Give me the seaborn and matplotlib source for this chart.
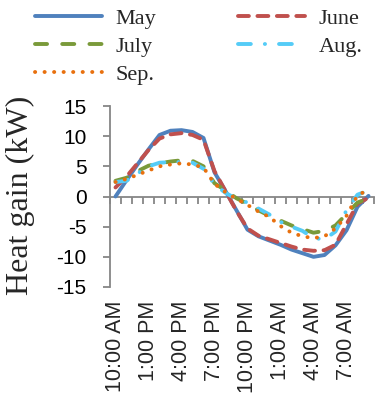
import matplotlib
matplotlib.use("Agg")
import matplotlib.pyplot as plt
import seaborn as sns
import numpy as np
import pandas as pd

# ---- data ----
hours = ["10:00 AM", "11:00 AM", "12:00 PM", "1:00 PM", "2:00 PM", "3:00 PM",
         "4:00 PM", "5:00 PM", "6:00 PM", "7:00 PM", "8:00 PM", "9:00 PM",
         "10:00 PM", "11:00 PM", "12:00 AM", "1:00 AM", "2:00 AM", "3:00 AM",
         "4:00 AM", "5:00 AM", "6:00 AM", "7:00 AM", "8:00 AM", "9:00 AM"]
may = [0.0, 2.7, 5.3, 7.8, 10.2, 10.9, 11.0, 10.7, 9.7, 4.0, 0.9, -2.3,
       -5.5, -6.6, -7.3, -8.0, -8.8, -9.4, -10.0, -9.7, -8.1, -5.6, -1.7, 0.1]
june = [1.5, 3.3, 5.5, 7.7, 9.6, 10.3, 10.5, 10.2, 9.4, 4.2, 0.9, -2.4,
        -5.3, -6.5, -7.1, -7.7, -8.3, -8.8, -9.0, -8.9, -8.0, -4.6, -1.2, -0.2]
july = [2.6, 3.1, 4.2, 5.1, 5.5, 5.8, 6.0, 5.9, 5.0, 2.2, 1.0, -0.3,
        -1.2, -2.3, -3.2, -4.0, -4.8, -5.4, -6.0, -5.7, -4.8, -2.9, -1.0, -0.3]
aug = [2.4, 2.6, 3.8, 5.0, 5.6, 5.7, 5.7, 5.6, 4.6, 2.0, 0.6, -0.4,
       -1.0, -2.0, -3.0, -4.2, -5.0, -5.7, -6.9, -7.1, -5.8, -2.3, 0.3, 1.0]
sep = [2.4, 2.9, 3.6, 4.3, 5.0, 5.3, 5.5, 5.3, 4.8, 2.1, 0.7, -0.4,
       -1.4, -2.5, -3.4, -4.9, -6.0, -6.6, -6.9, -6.6, -5.3, -3.2, 0.2, 1.1]
series_names = ["May", "June", "July", "Aug.", "Sep."]
tick_labels = ["10:00 AM", "1:00 PM", "4:00 PM", "7:00 PM",
               "10:00 PM", "1:00 AM", "4:00 AM", "7:00 AM"]
y_ticks = [-15, -10, -5, 0, 5, 10, 15]

# ---- styles ----
colors = {"May": "#4F81BD", "June": "#C0504D", "July": "#7A9A3A",
          "Aug.": "#55CCF7", "Sep.": "#E8700E"}
styles = {"May": "-",
          "June": (0, (2.8, 2.2)),
          "July": (0, (3.1, 3.9)),
          "Aug.": (0, (3.3, 3.6, 0.05, 3.6)),
          "Sep.": (0, (0.05, 2.4))}

sns.set_style("white")
plt.rcParams["font.family"] = ["Liberation Sans", "DejaVu Sans"]

fig = plt.figure(figsize=(3.76, 3.99), dpi=100)
ax = fig.add_axes([110 / 376, 112 / 399, 264 / 376, 181 / 399])

data = {"May": may, "June": june, "July": july, "Aug.": aug, "Sep.": sep}
idx = np.arange(len(hours))
handles = {}
for name in series_names:
    df = pd.DataFrame({"x": idx, "y": data[name]})
    sns.lineplot(data=df, x="x", y="y", ax=ax, color=colors[name],
                 linestyle=styles[name], linewidth=2.8, label=name,
                 legend=False, dash_capstyle="round", solid_capstyle="round",
                 zorder=3, sort=False)
    handles[name] = ax.lines[-1]

ax.set_xlim(-0.5, len(hours) - 0.5)
ax.set_ylim(-15, 15)
ax.set_xlabel("")
ax.set_ylabel("")

spine_col = "#868686"
for s in ["top", "right"]:
    ax.spines[s].set_visible(False)
ax.spines["left"].set_color(spine_col)
ax.spines["left"].set_linewidth(1.3)
ax.spines["bottom"].set_position(("data", 0))
ax.spines["bottom"].set_color(spine_col)
ax.spines["bottom"].set_linewidth(1.3)

# category boundary ticks on the zero axis
ax.set_xticks(np.arange(-0.5, len(hours), 1.0))
ax.set_xticklabels([])
ax.tick_params(axis="x", which="major", direction="out", length=5,
               width=1.3, color=spine_col, bottom=True)

ax.set_yticks(y_ticks)
ax.set_yticklabels([str(v) for v in y_ticks])
ax.tick_params(axis="y", direction="out", length=5, width=1.3,
               color=spine_col, left=True, labelsize=15, pad=12,
               labelcolor="#000000")

# category labels at the bottom of the plot area
sec = ax.secondary_xaxis(0)
sec.set_xticks(idx[::3])
sec.set_xticklabels(tick_labels, rotation=90, fontsize=15.5, va="top")
sec.tick_params(axis="x", length=0, pad=10)
sec.spines["bottom"].set_visible(False)

fig.text(20 / 376, 1 - 195 / 399, "Heat gain (kW)", rotation=90,
         ha="center", va="center", fontsize=23,
         family=["Liberation Serif", "DejaVu Serif"])

order = ["May", "July", "Sep.", "June", "Aug."]
fig.legend([handles[n] for n in order], order, ncol=2, loc="upper left",
           bbox_to_anchor=(35 / 376, 1 - 8 / 399), frameon=False,
           borderpad=0, borderaxespad=0, handlelength=3.0,
           handletextpad=0.62, labelspacing=0.35, columnspacing=3.7,
           prop={"family": ["Liberation Serif", "DejaVu Serif"], "size": 16})

fig.savefig("out.png", dpi=100)
